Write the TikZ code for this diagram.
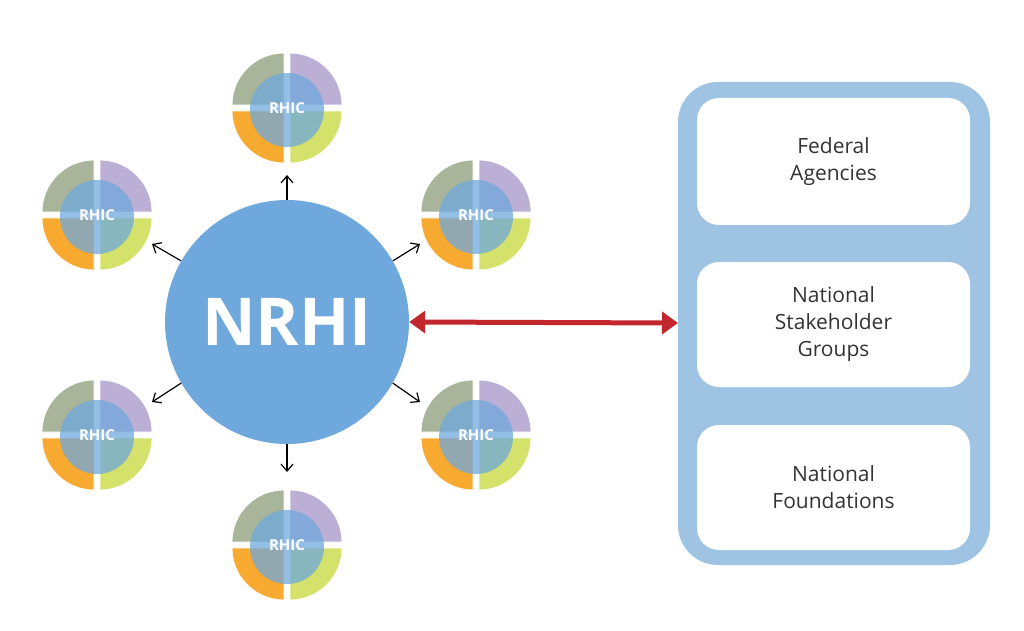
\documentclass[tikz,border=0pt]{standalone}
\usepackage{fontspec}
\setmainfont{Open Sans}
\usetikzlibrary{arrows.meta}
\definecolor{pg}{HTML}{A9B59A}
\definecolor{pp}{HTML}{BBAFD5}
\definecolor{po}{HTML}{F8AA30}
\definecolor{py}{HTML}{D4E16A}
\definecolor{cb}{HTML}{6FA8DC}
\definecolor{pan}{HTML}{9FC3E2}
\definecolor{rd}{HTML}{C1272D}
\tikzset{
 petal/.style={draw=white,line width=0.8pt},
 rhic/.pic={
  \fill[pg,petal] (-3,3) -- ++(0,52) arc[start angle=90,end angle=180,radius=52] -- cycle;
  \fill[pp,petal] (3,3) -- ++(52,0) arc[start angle=0,end angle=90,radius=52] -- cycle;
  \fill[po,petal] (-3,-3) -- ++(-52,0) arc[start angle=180,end angle=270,radius=52] -- cycle;
  \fill[py,petal] (3,-3) -- ++(0,-52) arc[start angle=270,end angle=360,radius=52] -- cycle;
  \fill[cb,opacity=0.75] (0,-2) circle[radius=37];
  \node[text=white,font=\bfseries\fontsize{15}{15}\selectfont] at (0,0) {RHIC};
 },
 arr/.style={-{Straight Barb[length=7pt,width=12pt]},line width=1.2pt},
 box/.style={fill=white,rounded corners=22pt,minimum width=273pt,align=center,font=\fontsize{21}{27}\selectfont,text=black!80}
}
\begin{document}
\begin{tikzpicture}[x=1pt,y=1pt]
\useasboundingbox (0,0) rectangle (1024,630);
\node[circle,fill=cb,minimum size=244pt,inner sep=0pt,text=white,font=\bfseries\fontsize{66}{66}\selectfont] (n) at (287,308) {NRHI};
\foreach \nm/\x/\y in {t/287/522,ul/97/415,ur/476/415,ll/97/195,lr/476/195,b/287/85}{
  \pic at (\x,\y) {rhic};
  \coordinate (\nm) at (\x,\y);
}
\coordinate (at) at (287,455); \draw[arr] (n.90) -- (at);
\coordinate (aul) at (152,386); \draw[arr] (n.150) -- (aul);
\coordinate (aur) at (420,386); \draw[arr] (n.30) -- (aur);
\coordinate (all) at (152,228); \draw[arr] (n.210) -- (all);
\coordinate (alr) at (420,228); \draw[arr] (n.330) -- (alr);
\coordinate (ab) at (287,158); \draw[arr] (n.270) -- (ab);
\fill[pan,rounded corners=40pt] (678,65) rectangle (990,548);
\coordinate (pl) at (678,307);
\node[box,minimum height=127pt] (f) at (833.5,468.5) {Federal\\Agencies};
\node[box,minimum height=125pt] (s) at (833.5,305.5) {National\\Stakeholder\\Groups};
\node[box,minimum height=125pt] (nf) at (833.5,142.5) {National\\Foundations};
\draw[rd,line width=5pt,{Triangle[length=16pt,width=22pt]}-{Triangle[length=16pt,width=22pt]}] (n.east) -- (pl);
\end{tikzpicture}
\end{document}
